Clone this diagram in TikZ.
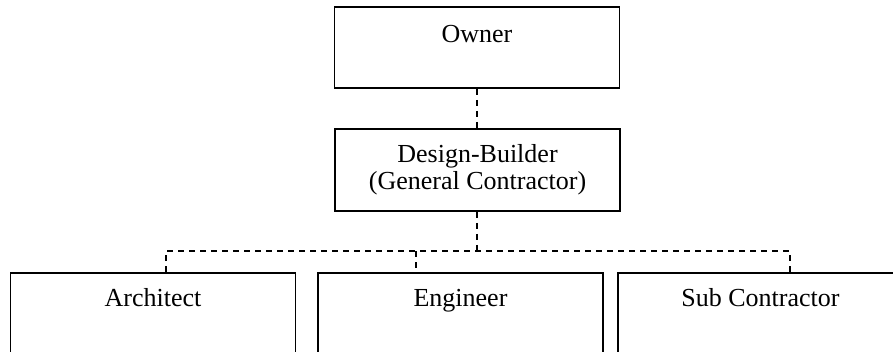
\documentclass[tikz,border=0pt]{standalone}
\usepackage{fontspec}
\setmainfont{Liberation Serif}
\begin{document}
\begin{tikzpicture}[x=1pt,y=-1pt,
  font=\fontsize{26}{27}\selectfont,
  box/.style={draw=black,line width=1.8pt,inner sep=0pt,minimum width=285pt,align=center},
  conn/.style={draw=black,line width=1.5pt,dash pattern=on 6pt off 5pt}]
\path[use as bounding box,clip] (0,0) rectangle (893,351);
\fill[white] (0,0) rectangle (893,351);
\node[box,text height=35pt,text depth=46pt] (owner) at (477,47.5) {Owner};
\node[box,minimum height=82pt] (db) at (477.5,170) {Design-Builder\\(General Contractor)};
\node[box,text height=34pt,text depth=70pt,anchor=north] (arch) at (153,272) {Architect};
\node[box,text height=34pt,text depth=70pt,anchor=north] (eng) at (460.5,272) {Engineer};
\node[box,text height=34pt,text depth=70pt,anchor=north] (sub) at (760.5,272) {Sub Contractor};
\coordinate (bA) at (166,251);
\coordinate (bE) at (416,251);
\coordinate (bS) at (790,251);
\draw[conn] (owner.south) -- (owner.south |- db.north);
\draw[conn] (db.south -| owner.south) -- (owner.south |- bA);
\draw[conn] (arch.north -| bA) -- (bA) -- (bS) -- (sub.north -| bS);
\draw[conn] (bE) -- (eng.north -| bE);
\end{tikzpicture}
\end{document}
